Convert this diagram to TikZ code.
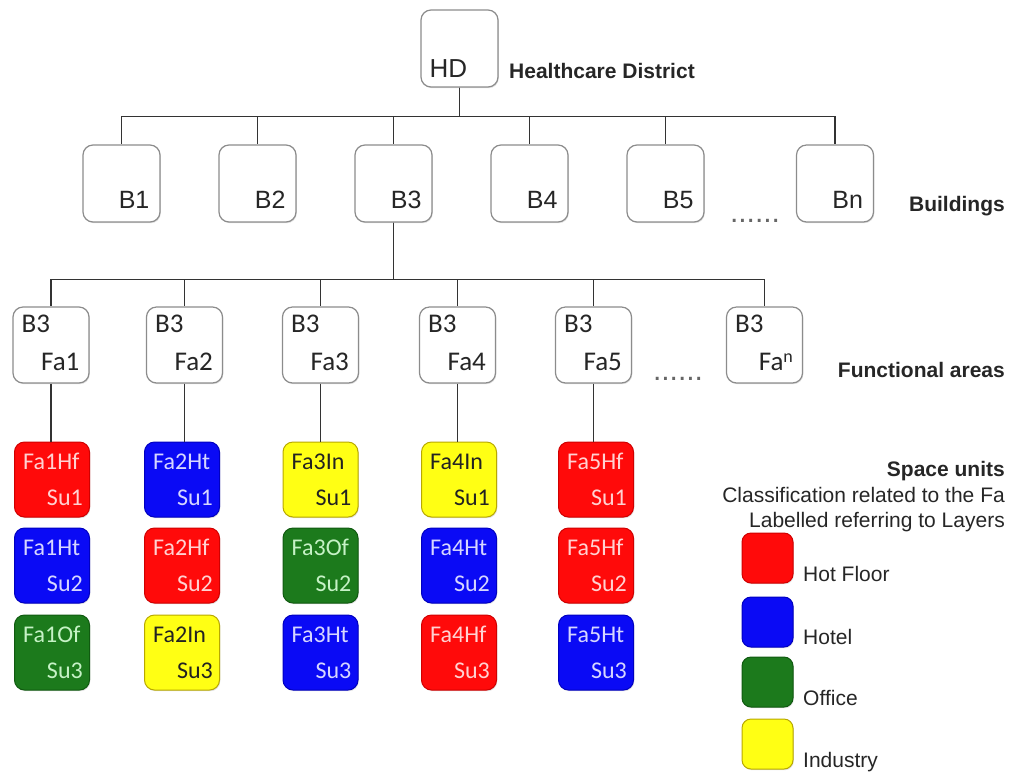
\documentclass[tikz,border=0pt]{standalone}
\usepackage{fontspec}
\setmainfont{Liberation Sans}
\newfontfamily\calfont{Carlito}
\usetikzlibrary{shadows}
\definecolor{hf}{HTML}{FF0A0A}
\definecolor{ht}{HTML}{0A0AF5}
\definecolor{of}{HTML}{1C7A1C}
\definecolor{in}{HTML}{FFFF14}
\definecolor{hfT}{HTML}{FFD2D2}
\definecolor{htT}{HTML}{D6D6FF}
\definecolor{ofT}{HTML}{C6F2C6}
\definecolor{inT}{HTML}{222222}
\definecolor{hfD}{HTML}{D00000}
\definecolor{htD}{HTML}{0000C0}
\definecolor{ofD}{HTML}{105A10}
\definecolor{inD}{HTML}{B8A800}
\tikzset{
  wbox/.style={draw=black!45, line width=1.2pt, rounded corners=10pt, fill=white,
    minimum width=77pt, minimum height=77pt, inner sep=0pt,
    drop shadow={shadow xshift=0.8pt, shadow yshift=-1.2pt, opacity=0.25, fill=black!50}},
  sbox/.style={draw=#1D, line width=1pt, rounded corners=10pt, fill=#1,
    minimum width=75pt, minimum height=75pt, inner sep=0pt,
    drop shadow={shadow xshift=0.8pt, shadow yshift=-1.2pt, opacity=0.25, fill=black!50}},
  lgbox/.style={draw=#1D, line width=1pt, rounded corners=9pt, fill=#1,
    minimum width=51pt, minimum height=50pt, inner sep=0pt,
    drop shadow={shadow xshift=0.8pt, shadow yshift=-1.2pt, opacity=0.25, fill=black!50}},
  conn/.style={draw=black!80, line width=1.3pt},
  lbl/.style={font=\fontsize{21}{25}\selectfont, inner sep=0pt, text=black!85},
  blbl/.style={font=\fontsize{21}{25}\selectfont\bfseries, inner sep=0pt, text=black!85},
  btxt/.style={font=\fontsize{25}{28}\selectfont, inner sep=0pt, text=black!85},
  ftxt/.style={font=\calfont\fontsize{27}{30}\selectfont, inner sep=0pt, text=black!85},
  stxt/.style={font=\calfont\fontsize{24}{28}\selectfont, inner sep=0pt},
  dots/.style={font=\fontsize{30}{30}\selectfont, inner sep=0pt, text=black!60},
}
\begin{document}
\begin{tikzpicture}[x=1pt,y=-1pt]
\useasboundingbox (0,0) rectangle (1011,772);

% Healthcare district
\node[wbox] (hd) at (459.5,48.5) {};
\node[btxt, font=\fontsize{26}{28}\selectfont, anchor=base west] (hdt) at ([xshift=9pt,yshift=10pt]hd.south west) {HD};
\node[blbl, anchor=base west] (hdl) at (509,78) {Healthcare District};

% Buildings
\foreach \n/\x in {1/121.5,2/257.5,3/393.5,4/529.5,5/665.5,n/835} {
  \node[wbox] (b\n) at (\x,183.5) {};
  \node[btxt, anchor=base east] (b\n t) at ([xshift=-11pt,yshift=14pt]b\n.south east) {B\n};
  \draw[conn] (hd.south) -- ++(0,29) -| (b\n.north);
}
\node[dots, anchor=base] (bdots) at (755,222) {......};
\node[blbl, anchor=base east] (bl) at (1005,211) {Buildings};

% Functional areas
\foreach \n/\x in {1/51,2/184.5,3/320.5,4/457.5,5/593.5} {
  \node[wbox, minimum width=76pt, minimum height=76pt] (fa\n) at (\x,345) {};
  \node[ftxt, anchor=base west] (fa\n a) at ([xshift=9pt,yshift=-26pt]fa\n.north west) {B3};
  \node[ftxt, anchor=base east] (fa\n b) at ([xshift=-10pt,yshift=13pt]fa\n.south east) {Fa\n};
  \draw[conn] (b3.south) -- ++(0,57) -| (fa\n.north);
}
\node[wbox, minimum width=76pt, minimum height=76pt] (fan) at (764.5,345) {};
\node[ftxt, anchor=base west] (fana) at ([xshift=9pt,yshift=-26pt]fan.north west) {B3};
\node[ftxt, anchor=base east] (fanb) at ([xshift=-10pt,yshift=13pt]fan.south east) {Fa\raisebox{0.3em}{\fontsize{18}{18}\selectfont n}};
\draw[conn] (b3.south) -- ++(0,57) -| (fan.north);
\node[dots, anchor=base] (fdots) at (678,380) {......};
\node[blbl, anchor=base east] (fl) at (1005,377) {Functional areas};

% Space units
\foreach \c/\x/\cola/\la/\colb/\lb/\colc/\lc in {
  1/52/hf/Hf/ht/Ht/of/Of,
  2/182/ht/Ht/hf/Hf/in/In,
  3/320.5/in/In/of/Of/ht/Ht,
  4/459/in/In/ht/Ht/hf/Hf,
  5/596/hf/Hf/hf/Hf/ht/Ht} {
  \node[sbox=\cola] (s\c a) at (\x,479.5) {};
  \node[sbox=\colb] (s\c b) at (\x,565.5) {};
  \node[sbox=\colc] (s\c c) at (\x,652.5) {};
  \node[stxt, text=\cola T, anchor=base west] (s\c a1) at ([xshift=9pt,yshift=-28pt]s\c a.north west) {Fa\c\la};
  \node[stxt, text=\cola T, anchor=base east] (s\c a2) at ([xshift=-7pt,yshift=12pt]s\c a.south east) {Su1};
  \node[stxt, text=\colb T, anchor=base west] (s\c b1) at ([xshift=9pt,yshift=-28pt]s\c b.north west) {Fa\c\lb};
  \node[stxt, text=\colb T, anchor=base east] (s\c b2) at ([xshift=-7pt,yshift=12pt]s\c b.south east) {Su2};
  \node[stxt, text=\colc T, anchor=base west] (s\c c1) at ([xshift=9pt,yshift=-28pt]s\c c.north west) {Fa\c\lc};
  \node[stxt, text=\colc T, anchor=base east] (s\c c2) at ([xshift=-7pt,yshift=12pt]s\c c.south east) {Su3};
  \draw[conn] (fa\c.south) -- (fa\c.south |- s\c a.north);
}

% Legend
\node[blbl, anchor=base east] (sul) at (1005,476) {Space units};
\node[lbl, anchor=base east] (cl1) at (1005,502) {Classification related to the Fa};
\node[lbl, anchor=base east] (cl2) at (1005,527) {Labelled referring to Layers};
\node[lgbox=hf] (lg1) at (767.5,558) {};
\node[lgbox=ht] (lg2) at (767.5,622) {};
\node[lgbox=of] (lg3) at (767.5,682) {};
\node[lgbox=in] (lg4) at (767.5,744) {};
\node[lbl, anchor=base west] (lt1) at (803,581) {Hot Floor};
\node[lbl, anchor=base west] (lt2) at (803,644) {Hotel};
\node[lbl, anchor=base west] (lt3) at (803,705) {Office};
\node[lbl, anchor=base west] (lt4) at (803,767) {Industry};
\end{tikzpicture}
\end{document}
